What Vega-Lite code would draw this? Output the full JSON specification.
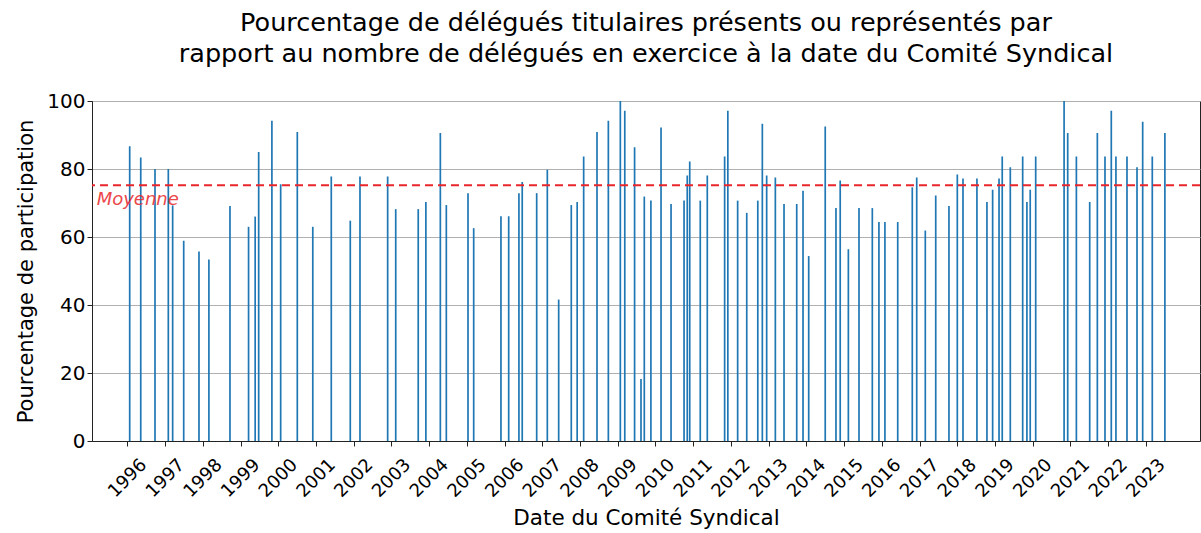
{
  "$schema": "https://vega.github.io/schema/vega-lite/v6.json",
  "width": 1108,
  "height": 340,
  "autosize": {"type": "none"},
  "padding": {"left": 92, "top": 101, "right": 1, "bottom": 92},
  "background": "white",
  "config": {
    "font": "DejaVu Sans",
    "view": {"stroke": "#222", "strokeWidth": 1}
  },
  "title": {
    "text": ["Pourcentage de délégués titulaires présents ou représentés par", "rapport au nombre de délégués en exercice à la date du Comité Syndical"],
    "font": "DejaVu Sans",
    "fontSize": 25.5,
    "fontWeight": "normal",
    "color": "black",
    "anchor": "middle",
    "offset": 24,
    "lineHeight": 31
  },
  "datasets": {
    "cs": [
      {"date": "1996-01-24", "v": 86.7},
      {"date": "1996-05-10", "v": 83.4},
      {"date": "1996-09-25", "v": 80.0},
      {"date": "1997-02-01", "v": 80.0},
      {"date": "1997-03-15", "v": 69.3},
      {"date": "1997-06-30", "v": 58.9},
      {"date": "1997-11-25", "v": 55.7},
      {"date": "1998-03-01", "v": 53.4},
      {"date": "1998-09-21", "v": 69.1},
      {"date": "1999-03-20", "v": 63.0},
      {"date": "1999-05-23", "v": 66.0},
      {"date": "1999-06-26", "v": 85.0},
      {"date": "1999-11-01", "v": 94.2},
      {"date": "2000-01-25", "v": 75.5},
      {"date": "2000-07-04", "v": 90.9},
      {"date": "2000-12-01", "v": 63.0},
      {"date": "2001-05-29", "v": 77.8},
      {"date": "2001-11-29", "v": 64.8},
      {"date": "2002-03-03", "v": 77.8},
      {"date": "2002-11-26", "v": 77.8},
      {"date": "2003-02-12", "v": 68.2},
      {"date": "2003-09-18", "v": 68.2},
      {"date": "2003-12-01", "v": 70.3},
      {"date": "2004-04-19", "v": 90.6},
      {"date": "2004-06-16", "v": 69.4},
      {"date": "2005-01-12", "v": 72.9},
      {"date": "2005-03-08", "v": 62.6},
      {"date": "2005-11-27", "v": 66.1},
      {"date": "2006-02-10", "v": 66.1},
      {"date": "2006-05-20", "v": 72.9},
      {"date": "2006-06-21", "v": 76.2},
      {"date": "2006-11-08", "v": 72.9},
      {"date": "2007-02-19", "v": 79.8},
      {"date": "2007-06-09", "v": 41.6},
      {"date": "2007-10-09", "v": 69.4},
      {"date": "2007-12-05", "v": 70.3},
      {"date": "2008-02-06", "v": 83.7},
      {"date": "2008-06-14", "v": 90.9},
      {"date": "2008-10-02", "v": 94.2},
      {"date": "2009-01-26", "v": 100},
      {"date": "2009-03-10", "v": 97.1},
      {"date": "2009-06-13", "v": 86.4},
      {"date": "2009-08-14", "v": 18.2},
      {"date": "2009-09-15", "v": 71.9},
      {"date": "2009-11-18", "v": 70.7},
      {"date": "2010-02-24", "v": 92.2},
      {"date": "2010-06-01", "v": 69.7},
      {"date": "2010-10-05", "v": 70.7},
      {"date": "2010-11-05", "v": 78.1},
      {"date": "2010-11-29", "v": 82.2},
      {"date": "2011-03-11", "v": 70.7},
      {"date": "2011-05-18", "v": 78.1},
      {"date": "2011-11-02", "v": 83.7},
      {"date": "2011-12-03", "v": 97.1},
      {"date": "2012-03-07", "v": 70.7},
      {"date": "2012-06-03", "v": 67.1},
      {"date": "2012-09-18", "v": 70.7},
      {"date": "2012-11-01", "v": 93.3},
      {"date": "2012-12-13", "v": 78.1},
      {"date": "2013-03-07", "v": 77.5},
      {"date": "2013-05-30", "v": 69.7},
      {"date": "2013-09-30", "v": 69.7},
      {"date": "2013-11-30", "v": 73.6},
      {"date": "2014-01-24", "v": 54.4},
      {"date": "2014-07-03", "v": 92.5},
      {"date": "2014-10-15", "v": 68.5},
      {"date": "2014-11-25", "v": 76.6},
      {"date": "2015-02-12", "v": 56.4},
      {"date": "2015-05-26", "v": 68.5},
      {"date": "2015-10-02", "v": 68.5},
      {"date": "2015-12-05", "v": 64.4},
      {"date": "2016-02-01", "v": 64.4},
      {"date": "2016-06-04", "v": 64.4},
      {"date": "2016-10-23", "v": 74.6},
      {"date": "2016-12-05", "v": 77.5},
      {"date": "2017-02-26", "v": 61.9},
      {"date": "2017-06-07", "v": 72.2},
      {"date": "2017-10-13", "v": 69.1},
      {"date": "2018-01-02", "v": 78.4},
      {"date": "2018-02-26", "v": 77.2},
      {"date": "2018-07-11", "v": 77.2},
      {"date": "2018-10-16", "v": 70.3},
      {"date": "2018-12-10", "v": 73.9},
      {"date": "2019-02-10", "v": 77.2},
      {"date": "2019-03-13", "v": 83.7},
      {"date": "2019-05-30", "v": 80.5},
      {"date": "2019-09-27", "v": 83.7},
      {"date": "2019-11-07", "v": 70.3},
      {"date": "2019-12-09", "v": 73.9},
      {"date": "2020-01-31", "v": 83.7},
      {"date": "2020-11-01", "v": 100},
      {"date": "2020-12-06", "v": 90.6},
      {"date": "2021-02-28", "v": 83.7},
      {"date": "2021-07-07", "v": 70.3},
      {"date": "2021-09-19", "v": 90.6},
      {"date": "2021-12-02", "v": 83.7},
      {"date": "2022-02-01", "v": 97.1},
      {"date": "2022-03-18", "v": 83.7},
      {"date": "2022-07-03", "v": 83.7},
      {"date": "2022-10-08", "v": 80.5},
      {"date": "2022-12-02", "v": 93.9},
      {"date": "2023-03-05", "v": 83.7},
      {"date": "2023-07-05", "v": 90.6}
    ],
    "mean": [{"v": 75.2, "label": "Moyenne", "date": "1995-03-10", "ty": 71.0}]
  },
  "layer": [
    {
      "data": {"name": "cs"},
      "mark": {"type": "bar", "width": 1.7, "color": "#1f77b4"},
      "encoding": {
        "x": {
          "field": "date",
          "type": "temporal",
          "scale": {"domain": ["1995-01-24", "2024-06-09"], "padding": 0},
          "axis": {
            "title": "Date du Comité Syndical",
            "titleFont": "DejaVu Sans",
            "titleFontSize": 21.5,
            "titleFontWeight": "normal",
            "titleColor": "black",
            "titlePadding": 7,
            "format": "%Y",
            "values": [
              {"year": 1996}, {"year": 1997}, {"year": 1998}, {"year": 1999}, {"year": 2000},
              {"year": 2001}, {"year": 2002}, {"year": 2003}, {"year": 2004}, {"year": 2005},
              {"year": 2006}, {"year": 2007}, {"year": 2008}, {"year": 2009}, {"year": 2010},
              {"year": 2011}, {"year": 2012}, {"year": 2013}, {"year": 2014}, {"year": 2015},
              {"year": 2016}, {"year": 2017}, {"year": 2018}, {"year": 2019}, {"year": 2020},
              {"year": 2021}, {"year": 2022}, {"year": 2023}
            ],
            "labelAngle": -45,
            "labelAlign": "center",
            "labelBaseline": "middle",
            "labelPadding": 32,
            "labelDx": -1.5,
            "labelFontSize": 18,
            "labelColor": "black",
            "labelFont": "DejaVu Sans",
            "labelOverlap": false,
            "labelFlush": false,
            "tickSize": 5,
            "tickColor": "#222",
            "domainColor": "#222",
            "grid": false
          }
        },
        "y": {
          "field": "v",
          "type": "quantitative",
          "scale": {"domain": [0, 100], "nice": false},
          "axis": {
            "title": "Pourcentage de participation",
            "titleFont": "DejaVu Sans",
            "titleFontSize": 21,
            "titleFontWeight": "normal",
            "titleColor": "black",
            "titlePadding": 10,
            "values": [0, 20, 40, 60, 80, 100],
            "labelFontSize": 20,
            "labelColor": "black",
            "labelFont": "DejaVu Sans",
            "tickSize": 5,
            "tickColor": "#222",
            "domainColor": "#222",
            "grid": true,
            "gridColor": "#b0b0b0",
            "gridWidth": 1
          }
        }
      }
    },
    {
      "data": {"name": "mean"},
      "mark": {"type": "rule", "color": "#e8262b", "strokeWidth": 2, "strokeDash": [8, 5]},
      "encoding": {"y": {"field": "v", "type": "quantitative"}}
    },
    {
      "data": {"name": "mean"},
      "mark": {"type": "text", "color": "#e8262b", "opacity": 0.85, "fontStyle": "italic", "fontSize": 18, "align": "left", "baseline": "middle", "font": "DejaVu Sans"},
      "encoding": {
        "x": {"field": "date", "type": "temporal"},
        "y": {"field": "ty", "type": "quantitative"},
        "text": {"field": "label"}
      }
    }
  ]
}
